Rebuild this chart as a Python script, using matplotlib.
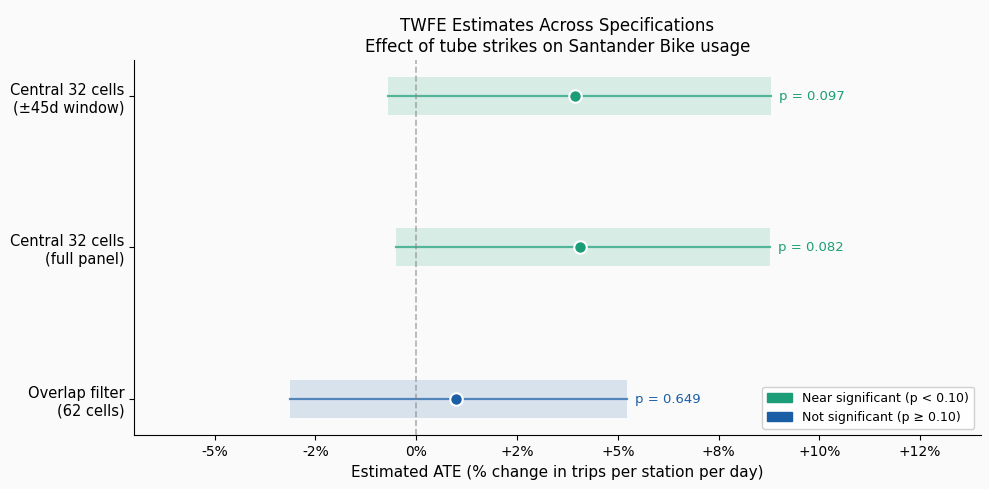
import matplotlib
matplotlib.use("Agg")
import matplotlib.pyplot as plt
from matplotlib.patches import Patch
from matplotlib.ticker import FuncFormatter

specs = ["Overlap filter\n(62 cells)", "Central 32 cells\n(full panel)", "Central 32 cells\n(±45d window)"]
estimates = [0.98, 4.05, 3.95]
ci_low = [-3.12, -0.50, -0.71]
ci_high = [5.22, 8.78, 8.81]
p_values = [0.649, 0.082, 0.097]

green = "#1b9e77"
blue = "#1a5fa6"
bg = "#fafafa"

fig, ax = plt.subplots(figsize=(9.895, 4.895), dpi=100)
fig.patch.set_facecolor(bg)
ax.set_facecolor(bg)

for i, (est, lo, hi, p) in enumerate(zip(estimates, ci_low, ci_high, p_values)):
    c = green if p < 0.10 else blue
    ax.barh(i, hi - lo, left=lo, height=0.25, color=c, alpha=0.15, linewidth=0)
    ax.plot([lo, hi], [i, i], color=c, alpha=0.7, lw=1.6)
    ax.plot(est, i, "o", color=c, markersize=9, markeredgecolor="white", markeredgewidth=1.5, zorder=5)
    ax.text(hi + 0.2, i, f"p = {p:.3f}", color=c, fontsize=9.5, va="center", ha="left")

ax.axvline(0, color="grey", ls="--", lw=1.2, alpha=0.6)

ax.set_yticks(range(len(specs)))
ax.set_yticklabels(specs, fontsize=10.5)
ax.set_xlim(-7, 14)
ax.set_xticks([-5, -2.5, 0, 2.5, 5, 7.5, 10, 12.5])
ax.xaxis.set_major_formatter(FuncFormatter(lambda v, _: f"{v:+.0f}%" if v != 0 else "0%"))
ax.tick_params(axis="x", labelsize=10)
ax.set_xlabel("Estimated ATE (% change in trips per station per day)", fontsize=11)
ax.set_title("TWFE Estimates Across Specifications\nEffect of tube strikes on Santander Bike usage", fontsize=12)

ax.spines["top"].set_visible(False)
ax.spines["right"].set_visible(False)

handles = [Patch(color=green, label="Near significant (p < 0.10)"),
           Patch(color=blue, label="Not significant (p ≥ 0.10)")]
ax.legend(handles=handles, loc="lower right", fontsize=9, framealpha=0.9)

plt.subplots_adjust(left=0.1355, right=0.991, top=0.877, bottom=0.110)
plt.savefig("out.png", dpi=100, facecolor=bg)
